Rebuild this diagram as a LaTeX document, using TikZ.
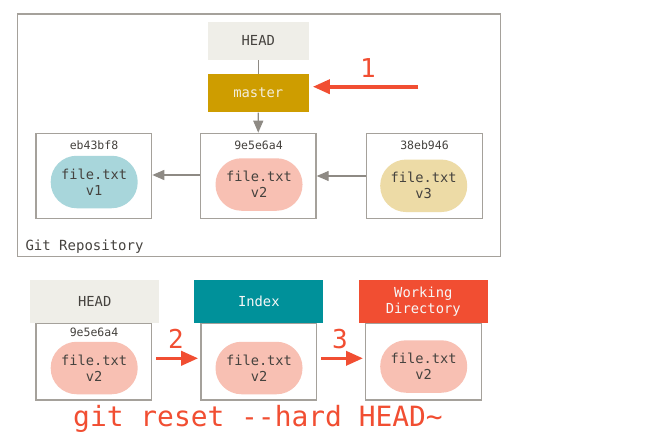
\documentclass[tikz,border=0pt]{standalone}
\usepackage{fontspec}
\setmonofont{DejaVu Sans Mono}
\usetikzlibrary{arrows.meta}
\definecolor{boxgray}{HTML}{A5A19B}
\definecolor{arrowgray}{HTML}{8E8A84}
\definecolor{txtgray}{HTML}{45423E}
\definecolor{headfill}{HTML}{EFEEE8}
\definecolor{masterfill}{HTML}{CE9D00}
\definecolor{masterTxt}{HTML}{F3EEDC}
\definecolor{pillone}{HTML}{A8D6DB}
\definecolor{pilltwo}{HTML}{F8C0B3}
\definecolor{pillthree}{HTML}{EDDBA6}
\definecolor{gitred}{HTML}{F14E32}
\definecolor{indexfill}{HTML}{00919A}
\tikzset{
  every node/.style={font=\ttfamily, text=txtgray},
  commitbox/.style={draw=boxgray, line width=1.3pt, fill=white, minimum width=115.7pt, minimum height=85pt, inner sep=0pt},
  lowbox/.style={draw=boxgray, line width=1.3pt, fill=white, minimum width=115.7pt, minimum height=77pt, inner sep=0pt},
  pill/.style={rounded corners=26pt, minimum width=87pt, minimum height=52.5pt, inner sep=0pt, align=center, font=\ttfamily\fontsize{13.7pt}{16pt}\selectfont},
  hashlbl/.style={font=\ttfamily\fontsize{11.5pt}{13pt}\selectfont},
  refbox/.style={minimum width=100.7pt, minimum height=38.3pt, inner sep=0pt, font=\ttfamily\fontsize{13.8pt}{16pt}\selectfont},
  hdrbox/.style={minimum width=129pt, minimum height=43.3pt, inner sep=0pt, align=center, font=\ttfamily\fontsize{13.8pt}{16pt}\selectfont},
  grayarrow/.style={draw=arrowgray, line width=1.3pt, -{Triangle[length=12pt,width=10pt]}},
  grayline/.style={draw=arrowgray, line width=1.3pt},
  redarrow/.style={draw=gitred, line width=3.6pt, -{Triangle[length=17pt,width=14pt]}},
  numlbl/.style={text=gitred, font=\ttfamily\fontsize{26pt}{30pt}\selectfont}
}
\begin{document}
\begin{tikzpicture}[x=1pt,y=-1pt]
\useasboundingbox (0,0) rectangle (668,444);
% repository frame
\node[draw=boxgray, line width=1.3pt, minimum width=483.4pt, minimum height=242.7pt, inner sep=0pt] (repo) at (259,135.3) {};
\node[anchor=west, font=\ttfamily\fontsize{14pt}{16pt}\selectfont] (repolbl) at (22,246.7) {Git Repository};
% refs
\node[refbox, fill=headfill] (head) at (258.3,40.8) {HEAD};
\node[refbox, fill=masterfill, text=masterTxt] (master) at (258.3,93.2) {master};
% commits
\node[commitbox] (c1) at (93.8,175.8) {};
\node[commitbox] (c2) at (258.2,175.8) {};
\node[commitbox] (c3) at (424.5,175.8) {};
\node[hashlbl] (h1) at (94,145.7) {eb43bf8};
\node[hashlbl] (h2) at (258.5,145.7) {9e5e6a4};
\node[hashlbl] (h3) at (424.5,145.7) {38eb946};
\node[pill, fill=pillone] (p1) at (94.2,182) {file.txt\\v1};
\node[pill, fill=pilltwo] (p2) at (259,184.5) {file.txt\\v2};
\node[pill, fill=pillthree] (p3) at (423.7,185.8) {file.txt\\v3};
% connectors
\draw[grayline] (head) -- (master);
\draw[grayarrow] (master) -- (c2);
\draw[grayarrow] (c2.west |- 0,175) -- (c1.east |- 0,175);
\draw[grayarrow] (c3.west |- 0,176) -- (c2.east |- 0,176);
\coordinate (r1start) at (418.3,86.7);
\draw[redarrow] (r1start) -- ([xshift=4pt]master.east |- r1start);
\node[numlbl] (n1) at (368,68) {1};
% bottom row
\node[lowbox] (b1) at (93.8,361.5) {};
\node[lowbox] (b2) at (258.7,361.5) {};
\node[lowbox] (b3) at (423.5,361.5) {};
\node[hdrbox, fill=headfill] (hhead) at (94.7,301.7) {HEAD};
\node[hdrbox, fill=indexfill, text=white!94!gray] (hindex) at (258.8,301.7) {Index};
\node[hdrbox, fill=gitred, text=white!94!gray, font=\ttfamily\fontsize{13.8pt}{16.5pt}\selectfont] (hwd) at (423.3,301.7) {Working\\Directory};
\node[hashlbl] (bh1) at (94,332.3) {9e5e6a4};
\node[pill, fill=pilltwo] (bp1) at (94.2,368) {file.txt\\v2};
\node[pill, fill=pilltwo] (bp2) at (259,368) {file.txt\\v2};
\node[pill, fill=pilltwo] (bp3) at (423.7,366.5) {file.txt\\v2};
\draw[redarrow, shorten <=4pt, shorten >=2pt] (b1.east |- 0,358.3) -- (b2.west |- 0,358.3);
\draw[redarrow, shorten <=4pt, shorten >=2pt] (b2.east |- 0,358.3) -- (b3.west |- 0,358.3);
\node[numlbl] (n2) at (176,339) {2};
\node[numlbl] (n3) at (340,339) {3};
\node[text=gitred, font=\ttfamily\fontsize{27.9pt}{32pt}\selectfont] (cmd) at (258,419) {git reset -{}-hard HEAD\char`~};
\end{tikzpicture}
\end{document}
